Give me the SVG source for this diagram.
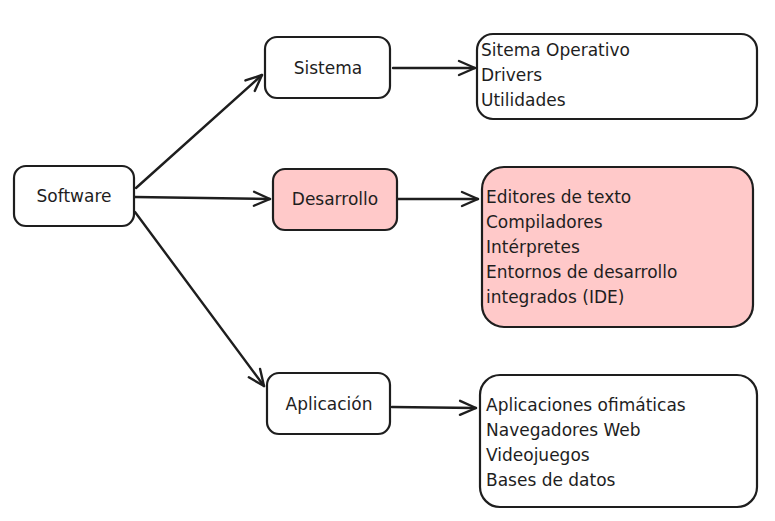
<svg xmlns="http://www.w3.org/2000/svg" width="775" height="521" viewBox="0 0 775 521">
<style>
.box{fill:#ffffff;stroke:#1e1e1e;stroke-width:2.2}
.pink{fill:#ffc9c9}
.t{font-family:"DejaVu Sans","Liberation Sans",sans-serif;font-size:17px;fill:#1e1e1e}
.c{text-anchor:middle}
.edge{fill:none;stroke:#1e1e1e;stroke-width:2.4;stroke-linecap:round}
</style>
<defs>
<marker id="ah" viewBox="0 0 20 20" refX="18" refY="10" markerWidth="20" markerHeight="20" markerUnits="userSpaceOnUse" orient="auto">
<polyline points="2,3 18,10 2,17" fill="none" stroke="#1e1e1e" stroke-width="2.4" stroke-linecap="round" stroke-linejoin="round"/>
</marker>
</defs>
<rect width="775" height="521" fill="#ffffff"/>
<g id="connectors">
<line class="edge" x1="136" y1="188" x2="262" y2="75" marker-end="url(#ah)"/>
<line class="edge" x1="135" y1="197" x2="270" y2="199" marker-end="url(#ah)"/>
<line class="edge" x1="135" y1="212" x2="264" y2="386" marker-end="url(#ah)"/>
<line class="edge" x1="393" y1="68" x2="475" y2="68" marker-end="url(#ah)"/>
<line class="edge" x1="398" y1="199" x2="478" y2="199" marker-end="url(#ah)"/>
<line class="edge" x1="392" y1="407" x2="476" y2="408" marker-end="url(#ah)"/>
</g>
<g id="software">
<rect class="box" x="14" y="166" width="120" height="60" rx="12"/>
<text class="t c" x="74" y="202">Software</text>
</g>
<g id="sistema">
<rect class="box" x="265" y="37" width="125" height="61" rx="12"/>
<text class="t c" x="328" y="74">Sistema</text>
</g>
<g id="desarrollo">
<rect class="box pink" x="273" y="169" width="124" height="61" rx="12"/>
<text class="t c" x="335" y="205">Desarrollo</text>
</g>
<g id="aplicacion">
<rect class="box" x="267" y="373" width="123" height="61" rx="12"/>
<text class="t c" x="329" y="410">Aplicación</text>
</g>
<g id="sistema-list">
<rect class="box" x="477" y="34" width="280" height="85" rx="16"/>
<text class="t" x="481" y="56">Sitema Operativo</text>
<text class="t" x="481" y="81">Drivers</text>
<text class="t" x="481" y="106">Utilidades</text>
</g>
<g id="desarrollo-list">
<rect class="box pink" x="482" y="167" width="271" height="160" rx="22"/>
<text class="t" x="486" y="203">Editores de texto</text>
<text class="t" x="486" y="228">Compiladores</text>
<text class="t" x="486" y="253">Intérpretes</text>
<text class="t" x="486" y="278">Entornos de desarrollo</text>
<text class="t" x="486" y="303">integrados (IDE)</text>
</g>
<g id="aplicacion-list">
<rect class="box" x="480" y="375" width="277" height="132" rx="20"/>
<text class="t" x="486" y="411">Aplicaciones ofimáticas</text>
<text class="t" x="486" y="436">Navegadores Web</text>
<text class="t" x="486" y="461">Videojuegos</text>
<text class="t" x="486" y="486">Bases de datos</text>
</g>
</svg>
